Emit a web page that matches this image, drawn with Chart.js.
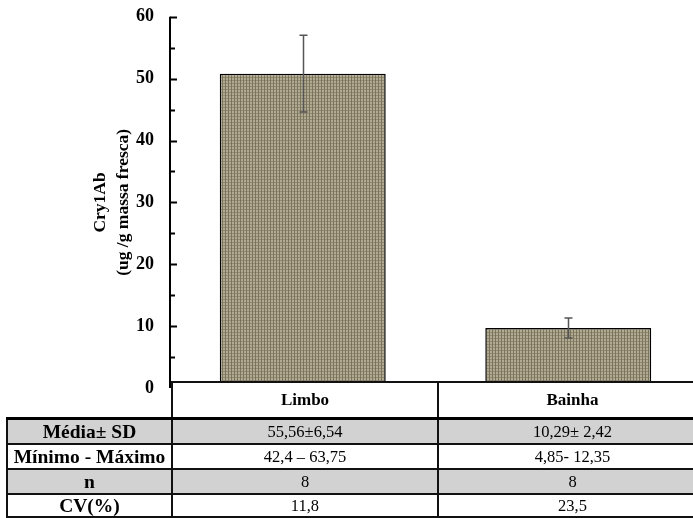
<!DOCTYPE html>
<html>
<head>
<meta charset="utf-8">
<script src="https://cdn.jsdelivr.net/npm/chart.js@4.4.0/dist/chart.umd.min.js"></script>
<style>
    body { margin: 0; background: #fff; }
    #wrap { position: relative; width: 693px; height: 518px; overflow: hidden; }
    #chart { position: absolute; left: 0; top: -10px; }
    #stats {
        position: absolute; left: 6px; top: 381px;
        border-collapse: collapse; table-layout: fixed; width: 700px;
        font-family: 'Liberation Serif', 'Times New Roman', serif; font-size: 16.5px; color: #000;
    }
    #stats td { text-align: center; padding: 0; border: 2px solid #111; line-height: 18px; }
    #stats tr.head td { height: 34px; background: #fff; font-weight: bold; font-size: 17px; border-bottom: 3px solid #000; }
    #stats tr.head td.blank { background: transparent; border-top: none; border-left: none; }
    #stats tr.body td { height: 23px; }
    #stats tr.body.last td { height: 21px; }
    #stats tr.gray td { background: #d2d2d2; }
    #stats td.lab { font-weight: bold; font-size: 19.5px; }
</style>
</head>
<body>
<div id="wrap">
    <canvas id="chart" width="701" height="518"></canvas>
    <table id="stats">
        <colgroup><col style="width:165px"><col style="width:266px"><col style="width:269px"></colgroup>
        <tbody id="statsBody"></tbody>
    </table>
</div>

<script>
    // values
    var categories = ['Limbo', 'Bainha'];
    var barValues = [50.8, 9.7];
    var errValues = [6.2, 1.6];
    var yTicks = [0, 10, 20, 30, 40, 50, 60];

    // table under the chart
    var rowLabels = ['Média± SD', 'Mínimo - Máximo', 'n', 'CV(%)'];
    var limboStats = ['55,56±6,54', '42,4 – 63,75', '8', '11,8'];
    var bainhaStats = ['10,29± 2,42', '4,85- 12,35', '8', '23,5'];

    var body = document.getElementById('statsBody');
    var html = '<tr class="head"><td class="blank"></td>';
    categories.forEach(function (c) { html += '<td>' + c + '</td>'; });
    html += '</tr>';
    for (var i = 0; i < rowLabels.length; i++) {
        var cls = 'body' + (i % 2 === 0 ? ' gray' : '') + (i === rowLabels.length - 1 ? ' last' : '');
        html += '<tr class="' + cls + '">' +
            '<td class="lab">' + rowLabels[i] + '</td>' +
            '<td>' + limboStats[i] + '</td>' +
            '<td>' + bainhaStats[i] + '</td></tr>';
    }
    body.innerHTML = html;

    // woven khaki fill for the bars
    function makePattern() {
        var p = document.createElement('canvas');
        p.width = 3; p.height = 3;
        var c = p.getContext('2d');
        c.fillStyle = '#b2ab91';
        c.fillRect(0, 0, 3, 3);
        c.fillStyle = '#7a745e';
        c.fillRect(0, 0, 1, 3);
        c.fillStyle = '#918a72';
        c.fillRect(1, 0, 2, 1);
        return document.getElementById('chart').getContext('2d').createPattern(p, 'repeat');
    }

    var axisPlugin = {
        id: 'axisTicks',
        afterDatasetsDraw: function (chart) {
            var ctx = chart.ctx;
            var y = chart.scales.y;
            var x0 = chart.chartArea.left;
            ctx.save();
            ctx.strokeStyle = '#000';
            ctx.lineWidth = 2;
            ctx.beginPath();
            ctx.moveTo(x0, y.getPixelForValue(60));
            ctx.lineTo(x0, y.getPixelForValue(0));
            ctx.stroke();
            for (var v = 5; v <= 60; v += 5) {
                var py = Math.round(y.getPixelForValue(v)) + 0.5;
                ctx.beginPath();
                ctx.moveTo(x0, py);
                ctx.lineTo(x0 + (v % 10 === 0 ? 7 : 5), py);
                ctx.stroke();
            }
            // error bars
            var meta = chart.getDatasetMeta(0);
            ctx.strokeStyle = '#555';
            ctx.lineWidth = 1.5;
            meta.data.forEach(function (bar, i) {
                var yt = y.getPixelForValue(barValues[i] + errValues[i]);
                var yb = y.getPixelForValue(barValues[i] - errValues[i]);
                var bx = Math.round(bar.x) + 0.5;
                ctx.beginPath();
                ctx.moveTo(bx, yt); ctx.lineTo(bx, yb);
                ctx.moveTo(bx - 4, yt); ctx.lineTo(bx + 4, yt);
                ctx.moveTo(bx - 4, yb); ctx.lineTo(bx + 4, yb);
                ctx.stroke();
            });
            ctx.restore();
        }
    };

    var ctx = document.getElementById('chart').getContext('2d');
    var chart = new Chart(ctx, {
        type: 'bar',
        data: {
            labels: categories,
            datasets: [{
                data: barValues,
                backgroundColor: makePattern(),
                borderColor: '#000',
                borderWidth: 1.5,
                borderSkipped: 'bottom',
                barPercentage: 0.625,
                categoryPercentage: 1
            }]
        },
        options: {
            responsive: false,
            animation: false,
            devicePixelRatio: 1,
            layout: { padding: { top: 4, bottom: 120, left: 0, right: 0 } },
            plugins: { legend: { display: false }, tooltip: { enabled: false } },
            scales: {
                x: { display: false, offset: true },
                y: {
                    min: 0,
                    max: 60,
                    afterBuildTicks: function (s) { s.ticks = yTicks.map(function (v) { return { value: v }; }); },
                    afterFit: function (s) { s.width = 170; },
                    grid: { display: false, drawTicks: false },
                    border: { display: false },
                    ticks: {
                        padding: 16,
                        color: '#000',
                        font: { family: 'Liberation Serif', size: 18, weight: 'bold' }
                    },
                    title: {
                        display: true,
                        text: ['Cry1Ab', '(ug /g massa fresca)'],
                        color: '#000',
                        font: { family: 'Liberation Serif', size: 17.5, weight: 'bold', lineHeight: 1.3 },
                        padding: { top: 89, bottom: 0 }
                    }
                }
            }
        },
        plugins: [axisPlugin]
    });
</script>
</body>
</html>
